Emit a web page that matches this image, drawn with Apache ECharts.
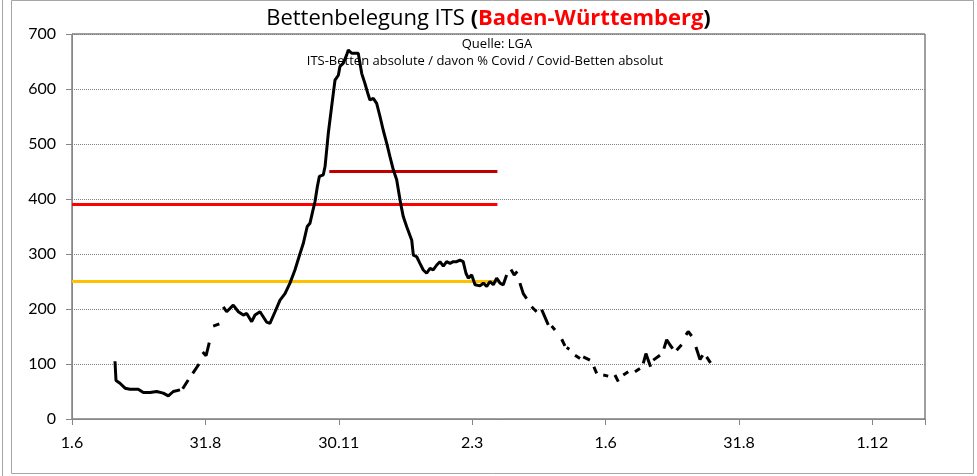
<!DOCTYPE html>
<html>
<head>
<meta charset="utf-8">
<script src="https://cdn.jsdelivr.net/npm/echarts@6/dist/echarts.min.js"></script>
<style>
  html, body { margin: 0; padding: 0; background: #fff; }
  #chart { width: 977px; height: 476px; }
</style>
</head>
<body>
<div id="chart"></div>
<script>
// x values are days since 1.6.2020
const xLabels = ["1.6", "31.8", "30.11", "2.3", "1.6", "31.8", "1.12"];
const tickStep = 91.25;

// ITS beds (null = no data -> gap in the line)
const days = [
  29.4, 30.1, 32.8, 36.3, 39.7, 45.3, 48.8, 53.4, 57.9, 62.4, 65.9, 69.3, 73.9,
  74.8, 75.7, 79.5, 81, 82.6, 86.9, 88, 89.4, 91.7, 93.9, 95, 96.6, 100.8, 102,
  103.5, 105.8, 110.3, 113.8, 117.2, 119.5, 122.9, 125.2, 128.6, 130.8, 133.2, 135.4,
  138.9, 142.3, 145.7, 149.1, 152.5, 156.0, 158.2, 160.9, 162.8, 164.6, 166.2, 167.8,
  169.2, 171.9, 173.1, 175.3, 177.6, 179.9, 182.2, 183.3, 185.6, 187.9, 189.0, 191.3,
  193.6, 195.8, 197.0, 198.2, 200.4, 202.7, 203.8, 206.1, 208.4, 210.7, 212.9, 215.3,
  217.5, 219.8, 222.1, 224.8, 226.6, 228.9, 232.4, 233.5, 235.8, 238.0, 240.3, 242.6,
  244.9, 247.1, 249.5, 251.7, 254.0, 256.3, 258.6, 260.8, 263.1, 265.4, 267.6, 269.5,
  271.1, 273.4, 275.7, 279.1, 281.4, 283.7, 285.9, 288.2, 290.5, 292.8, 295.0, 297.3,
  298.8, 300.3, 302.5, 304.6, 305.5, 306.4, 308.7, 311.0, 312.7, 314.4, 317.8, 319.5,
  321.3, 325.8, 327, 328.1, 330.4, 332.7, 335.0, 337.2, 337.8, 338.4, 340.2, 342.1,
  344.1, 347.5, 348.6, 349.7, 354.3, 355.6, 357.0, 358.9, 361.1, 363.4, 366.8, 369.1,
  371.4, 373.7, 375.4, 377.1, 380.5, 382.8, 385.1, 388.5, 389.6, 390.8, 392.6, 394.2,
  395.8, 396.7, 397.6, 402.2, 403.5, 404.9, 406.8, 409.0, 410.9, 412.2, 413.6, 417.0,
  418.5, 420.0, 421.5, 423.9, 425.3, 426.8, 429.6, 431.4, 432.7, 434.1, 436.8
];
const beds = [
  105, 70, 65, 56, 54, 54, 48, 48, 50, 47, 42, 50, 53,
  null, 55, 71, null, 83, 100, null, 122, 115, 139, null, 169, 173, null,
  204, 195, 207, 195, 189, 192, 177, 189, 195, 186, 176, 174,
  195, 216, 228, 247, 271, 301, 319, 350, 356, 377, 395, 422,
  441, 444, 459, 519, 568, 616, 625, 641, 647, 662, 671, 665,
  665, 665, 647, 628, 610, 589, 580, 583, 574, 550, 525, 501,
  477, 453, 435, 392, 368, 350, 325, 298, 295, 283, 271, 265,
  274, 271, 280, 286, 278, 286, 283, 286, 286, 289, 286, 265,
  256, 262, 244, 242, 247, 241, 250, 244, 256, 247, 244, 262,
  null, 272, 262, 268, null, 247, 228, 219, null, 204, 195, null,
  199, 171, null, 169, 162, null, 145, 133, null, 130, 127, null,
  116, 110, null, 113, 107, null, 95, 83, null, 80, 78, null,
  80, 68, null, 80, 86, null, 86, 92, null, 101, 119, 107,
  95, null, 107, 116, null, 128, 144, 135, 128, null, 125, 135,
  null, 153, 159, 151, null, 131, 108, 116, null, 113, 102
];

// threshold lines
const limitValues = [250, 390, 450];
const limitFrom = [0, 0, 176];
const limitTo = [291, 291, 291];

const chart = echarts.init(document.getElementById("chart"));
const font = "Lato, 'Open Sans', sans-serif";
const titleFont = "'Open Sans', sans-serif";
const limitColors = ["#ffc000", "#ff0000", "#c00000"];

const limitSeries = limitValues.map((v, i) => ({
  type: "line",
  symbol: "none",
  silent: true,
  z: 2,
  lineStyle: { color: limitColors[i], width: 3 },
  data: [[limitFrom[i], v], [limitTo[i], v]],
}));

chart.setOption({
  backgroundColor: "#fff",
  animation: false,
  title: {
    left: "center",
    top: 3,
    text: "{a|Bettenbelegung ITS }{b|(}{c|Baden-Württemberg}{b|)}",
    textStyle: {
      fontWeight: "normal",
      rich: {
        a: { fontFamily: titleFont, fontSize: 22, fontWeight: "normal", color: "#000" },
        b: { fontFamily: titleFont, fontSize: 22, fontWeight: "bold", color: "#000" },
        c: { fontFamily: titleFont, fontSize: 22, fontWeight: "bold", color: "#ff0000" },
      },
    },
  },
  graphic: [
    { type: "rect", shape: { x: 11.5, y: 0.5, width: 962, height: 473 }, style: { fill: "none", stroke: "#a6a6a6", lineWidth: 1 }, silent: true },
    { type: "line", shape: { x1: 2.5, y1: 0, x2: 2.5, y2: 476 }, style: { stroke: "#a6a6a6", lineWidth: 1 }, silent: true },
    { type: "text", x: 497, y: 44, style: { text: "Quelle: LGA", fontFamily: titleFont, fontSize: 13, fill: "#000", align: "center", verticalAlign: "middle" }, z: 10 },
    { type: "text", x: 485, y: 61, style: { text: "ITS-Betten absolute / davon % Covid / Covid-Betten absolut", fontFamily: titleFont, fontSize: 13, fill: "#000", align: "center", verticalAlign: "middle" }, z: 10 },
  ],
  grid: {
    left: 72,
    right: 52,
    top: 34,
    bottom: 57,
    show: true,
    borderColor: "#404040",
    borderWidth: 1,
  },
  xAxis: {
    type: "value",
    min: 0,
    max: 583.5,
    interval: tickStep,
    axisLine: { lineStyle: { color: "#868686" } },
    axisTick: { length: 6, lineStyle: { color: "#868686" } },
    splitLine: { show: false },
    axisLabel: {
      margin: 16,
      fontFamily: font,
      fontSize: 16,
      color: "#000",
      formatter: (v) => {
        const i = Math.round(v / tickStep);
        return Math.abs(v - i * tickStep) < 0.01 && xLabels[i] ? xLabels[i] : "";
      },
    },
  },
  yAxis: {
    type: "value",
    min: 0,
    max: 700,
    interval: 100,
    axisLine: { show: true, lineStyle: { color: "#868686" } },
    axisTick: { show: true, length: 6, lineStyle: { color: "#868686" } },
    splitLine: { lineStyle: { color: "#808080", type: "dotted", width: 1 } },
    axisLabel: { margin: 16, fontFamily: font, fontSize: 16, color: "#000" },
  },
  series: [
    ...limitSeries,
    {
      type: "line",
      symbol: "none",
      connectNulls: false,
      z: 3,
      lineStyle: { color: "#000", width: 3 },
      data: days.map((d, i) => [d, beds[i]]),
    },
  ],
});
</script>
</body>
</html>
